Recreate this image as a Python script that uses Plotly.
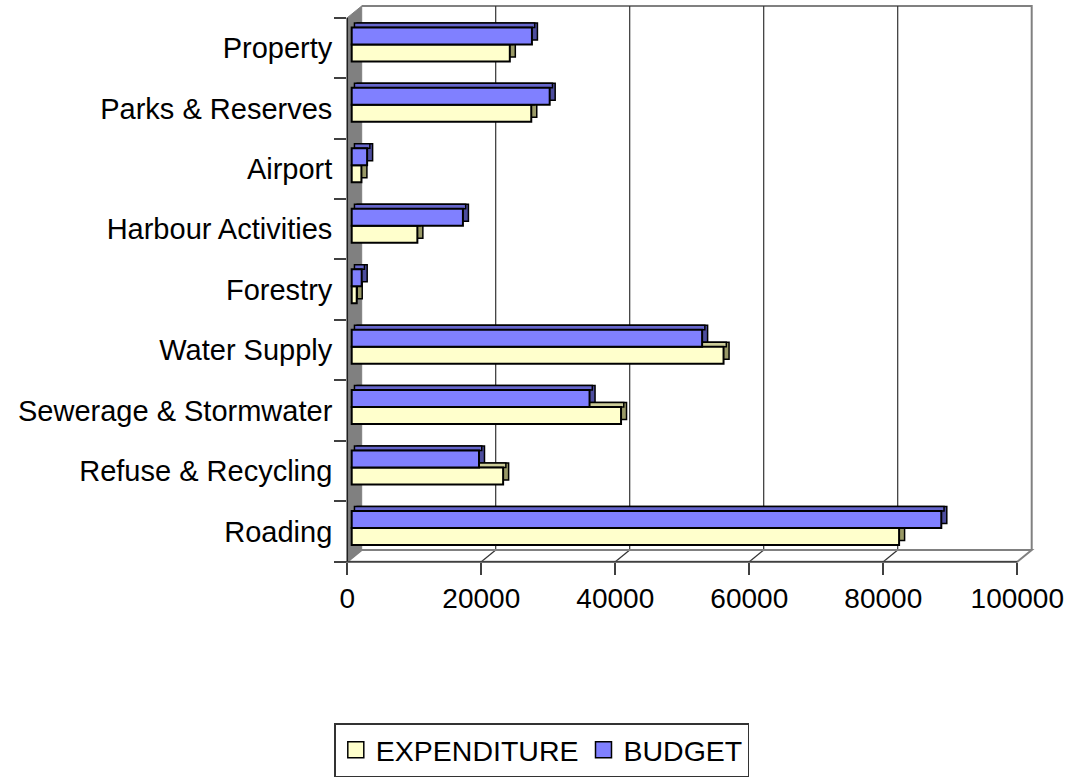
import plotly.graph_objects as go

# ---------------- data ----------------
categories = ["Roading", "Refuse & Recycling", "Sewerage & Stormwater", "Water Supply",
              "Forestry", "Harbour Activities", "Airport", "Parks & Reserves", "Property"]
expenditure = [81700, 22600, 40200, 55500, 750, 9800, 1450, 26800, 23600]
budget = [88000, 19000, 35500, 52300, 1490, 16600, 2300, 29550, 26900]
x_ticks = [0, 20000, 40000, 60000, 80000, 100000]
grid_vals = [20000, 40000, 60000, 80000]

# ---------------- geometry (pixels) ----------------
W, H = 1075, 778
X0, X1 = 347.3, 1031.7      # plot domain left/right
Y0, Y1 = 6.0, 561.7         # plot domain top/bottom
K = 6.70 / 1000.0           # px per unit
DX, DY = 14.4, 11.7         # depth of the 3-D box
BX, BY = 4.4, 3.5           # bar front face offset inside the box
BDX, BDY = 5.5, 4.5         # bar depth
NC = len(categories)
C = (Y1 - Y0 - DY) / NC     # px per category on the front plane
BW = 17.0 / C               # bar thickness in category units
DS = BDY / C

FONT = "Liberation Sans, Arial, sans-serif"


def xr(p0):
    return [(X0 - p0) / K, (X1 - p0) / K]


def yr(s):
    return [-s / C - 0.5, (Y1 - Y0 - s) / C - 0.5]


def px(x):
    return x / W


def py(y):
    return 1 - y / H


dom_x = [px(X0), px(X1)]
dom_y = [py(Y1), py(Y0)]

YELLOW, YELLOW_TOP, YELLOW_SIDE = "#FFFFCC", "#CCCC99", "#999966"
BLUE, BLUE_TOP, BLUE_SIDE = "#8080FF", "#6666CC", "#4D4D9E"

fig = go.Figure()

# side faces (back copies)
for vals, col, off in [(expenditure, YELLOW_SIDE, -BW), (budget, BLUE_SIDE, 0.0)]:
    fig.add_trace(go.Bar(y=categories, x=vals, orientation="h", xaxis="x", yaxis="y",
                         offset=off, width=BW, marker=dict(color=col, line=dict(color="black", width=1.5)),
                         showlegend=False, hoverinfo="skip"))
# top faces
for vals, col, off in [(expenditure, YELLOW_TOP, 0.0), (budget, BLUE_TOP, BW)]:
    fig.add_trace(go.Bar(y=categories, x=vals, orientation="h", xaxis="x2", yaxis="y2",
                         offset=off, width=DS, marker=dict(color=col, line=dict(color="black", width=1.5)),
                         showlegend=False, hoverinfo="skip"))
# front faces
for name, vals, col, off in [("EXPENDITURE", expenditure, YELLOW, -BW), ("BUDGET", budget, BLUE, 0.0)]:
    fig.add_trace(go.Bar(y=categories, x=vals, orientation="h", xaxis="x3", yaxis="y2",
                         offset=off, width=BW, name=name, legendgroup=name, showlegend=False,
                         marker=dict(color=col, line=dict(color="black", width=2))))
# front-plane axes (ticks / labels) – empty scatter registers the categories, legend entries
for name, col in [("EXPENDITURE", YELLOW), ("BUDGET", BLUE)]:
    fig.add_trace(go.Scatter(y=categories, x=[None] * NC, mode="markers", xaxis="x4", yaxis="y4",
                             name=name, legendgroup=name, hoverinfo="skip",
                             marker=dict(symbol="square", size=20, color=col,
                                         line=dict(color="black", width=1.5))))

hidden = dict(visible=False, fixedrange=True, automargin=False)
cat_common = dict(type="category", categoryorder="array", categoryarray=categories)

shapes = []
# back wall border
shapes.append(dict(type="path", xref="paper", yref="paper", layer="below",
                   path=f"M{px(X0+DX)},{py(Y0)} L{px(X1)},{py(Y0)} L{px(X1)},{py(Y1-DY)}",
                   line=dict(color="#808080", width=2)))
# gridlines on back wall and floor
for v in grid_vals:
    xb = X0 + DX + v * K
    xf = X0 + v * K
    shapes.append(dict(type="line", xref="paper", yref="paper", layer="below",
                       x0=px(xb), x1=px(xb), y0=py(Y0), y1=py(Y1 - DY),
                       line=dict(color="#333333", width=1.2)))
    shapes.append(dict(type="line", xref="paper", yref="paper", layer="below",
                       x0=px(xb), x1=px(xf), y0=py(Y1 - DY), y1=py(Y1),
                       line=dict(color="#333333", width=1.2)))
# floor
xf_end = X0 + x_ticks[-1] * K
shapes.append(dict(type="path", xref="paper", yref="paper", layer="below",
                   path=(f"M{px(X0)},{py(Y1)} L{px(xf_end)},{py(Y1)} L{px(X1)},{py(Y1-DY)} "
                         f"L{px(X0+DX)},{py(Y1-DY)} Z"),
                   fillcolor="rgba(0,0,0,0)", line=dict(color="#808080", width=2)))
# left wall
shapes.append(dict(type="path", xref="paper", yref="paper", layer="below",
                   path=(f"M{px(X0)},{py(Y0+DY)} L{px(X0+DX)},{py(Y0)} L{px(X0+DX)},{py(Y1-DY)} "
                         f"L{px(X0)},{py(Y1)} Z"),
                   fillcolor="#808080", line=dict(color="#808080", width=1)))
# front axis lines
shapes.append(dict(type="line", xref="paper", yref="paper", layer="above",
                   x0=px(X0), x1=px(X0), y0=py(Y0 + DY), y1=py(Y1),
                   line=dict(color="#202020", width=1.5)))
shapes.append(dict(type="line", xref="paper", yref="paper", layer="above",
                   x0=px(X0 - 12), x1=px(xf_end), y0=py(Y1), y1=py(Y1),
                   line=dict(color="#404040", width=1.5)))

fig.update_layout(
    width=W, height=H, autosize=False,
    margin=dict(l=0, r=0, t=0, b=0, pad=0, autoexpand=False),
    paper_bgcolor="white", plot_bgcolor="rgba(0,0,0,0)",
    barmode="overlay",
    font=dict(family=FONT, size=28, color="black"),
    xaxis=dict(domain=dom_x, range=xr(X0 + BX + BDX), anchor="y", **hidden),
    yaxis=dict(domain=dom_y, range=yr(BY + BDY), anchor="x", **cat_common, **hidden),
    xaxis2=dict(domain=dom_x, range=xr(X0 + BX + BDX / 2), overlaying="x", anchor="y2", **hidden),
    yaxis2=dict(domain=dom_y, range=yr(BY), overlaying="y", anchor="x2", **cat_common, **hidden),
    xaxis3=dict(domain=dom_x, range=xr(X0 + BX), overlaying="x", anchor="y2", **hidden),
    xaxis4=dict(domain=dom_x, range=xr(X0), overlaying="x", anchor="y4", fixedrange=True, type="linear",
                automargin=False,
                tickmode="array", tickvals=x_ticks, ticktext=[str(v) for v in x_ticks],
                ticks="outside", ticklen=12, tickwidth=1.5, tickcolor="#404040", showticklabels=True,
                showgrid=False, zeroline=False, showline=False,
                tickfont=dict(family=FONT, size=28, color="black")),
    yaxis4=dict(domain=dom_y, range=yr(0), overlaying="y", anchor="x4", side="left", fixedrange=True,
                automargin=False, ticklabelstandoff=14,
                **cat_common, tickson="boundaries", showticklabels=True,
                ticks="outside", ticklen=12, tickwidth=1.5, tickcolor="#404040",
                showgrid=False, zeroline=False, showline=False,
                tickfont=dict(family=FONT, size=29, color="black")),
    legend=dict(orientation="h", x=0.504, xanchor="center", y=0.001, yanchor="bottom",
                bgcolor="white", bordercolor="#333333", borderwidth=1.5,
                font=dict(family=FONT, size=28.5, color="black"), traceorder="normal"),
    shapes=shapes,
)

fig.write_html("out.html", config={"responsive": False, "displayModeBar": False},
               post_script="document.body.style.margin='0px';")
